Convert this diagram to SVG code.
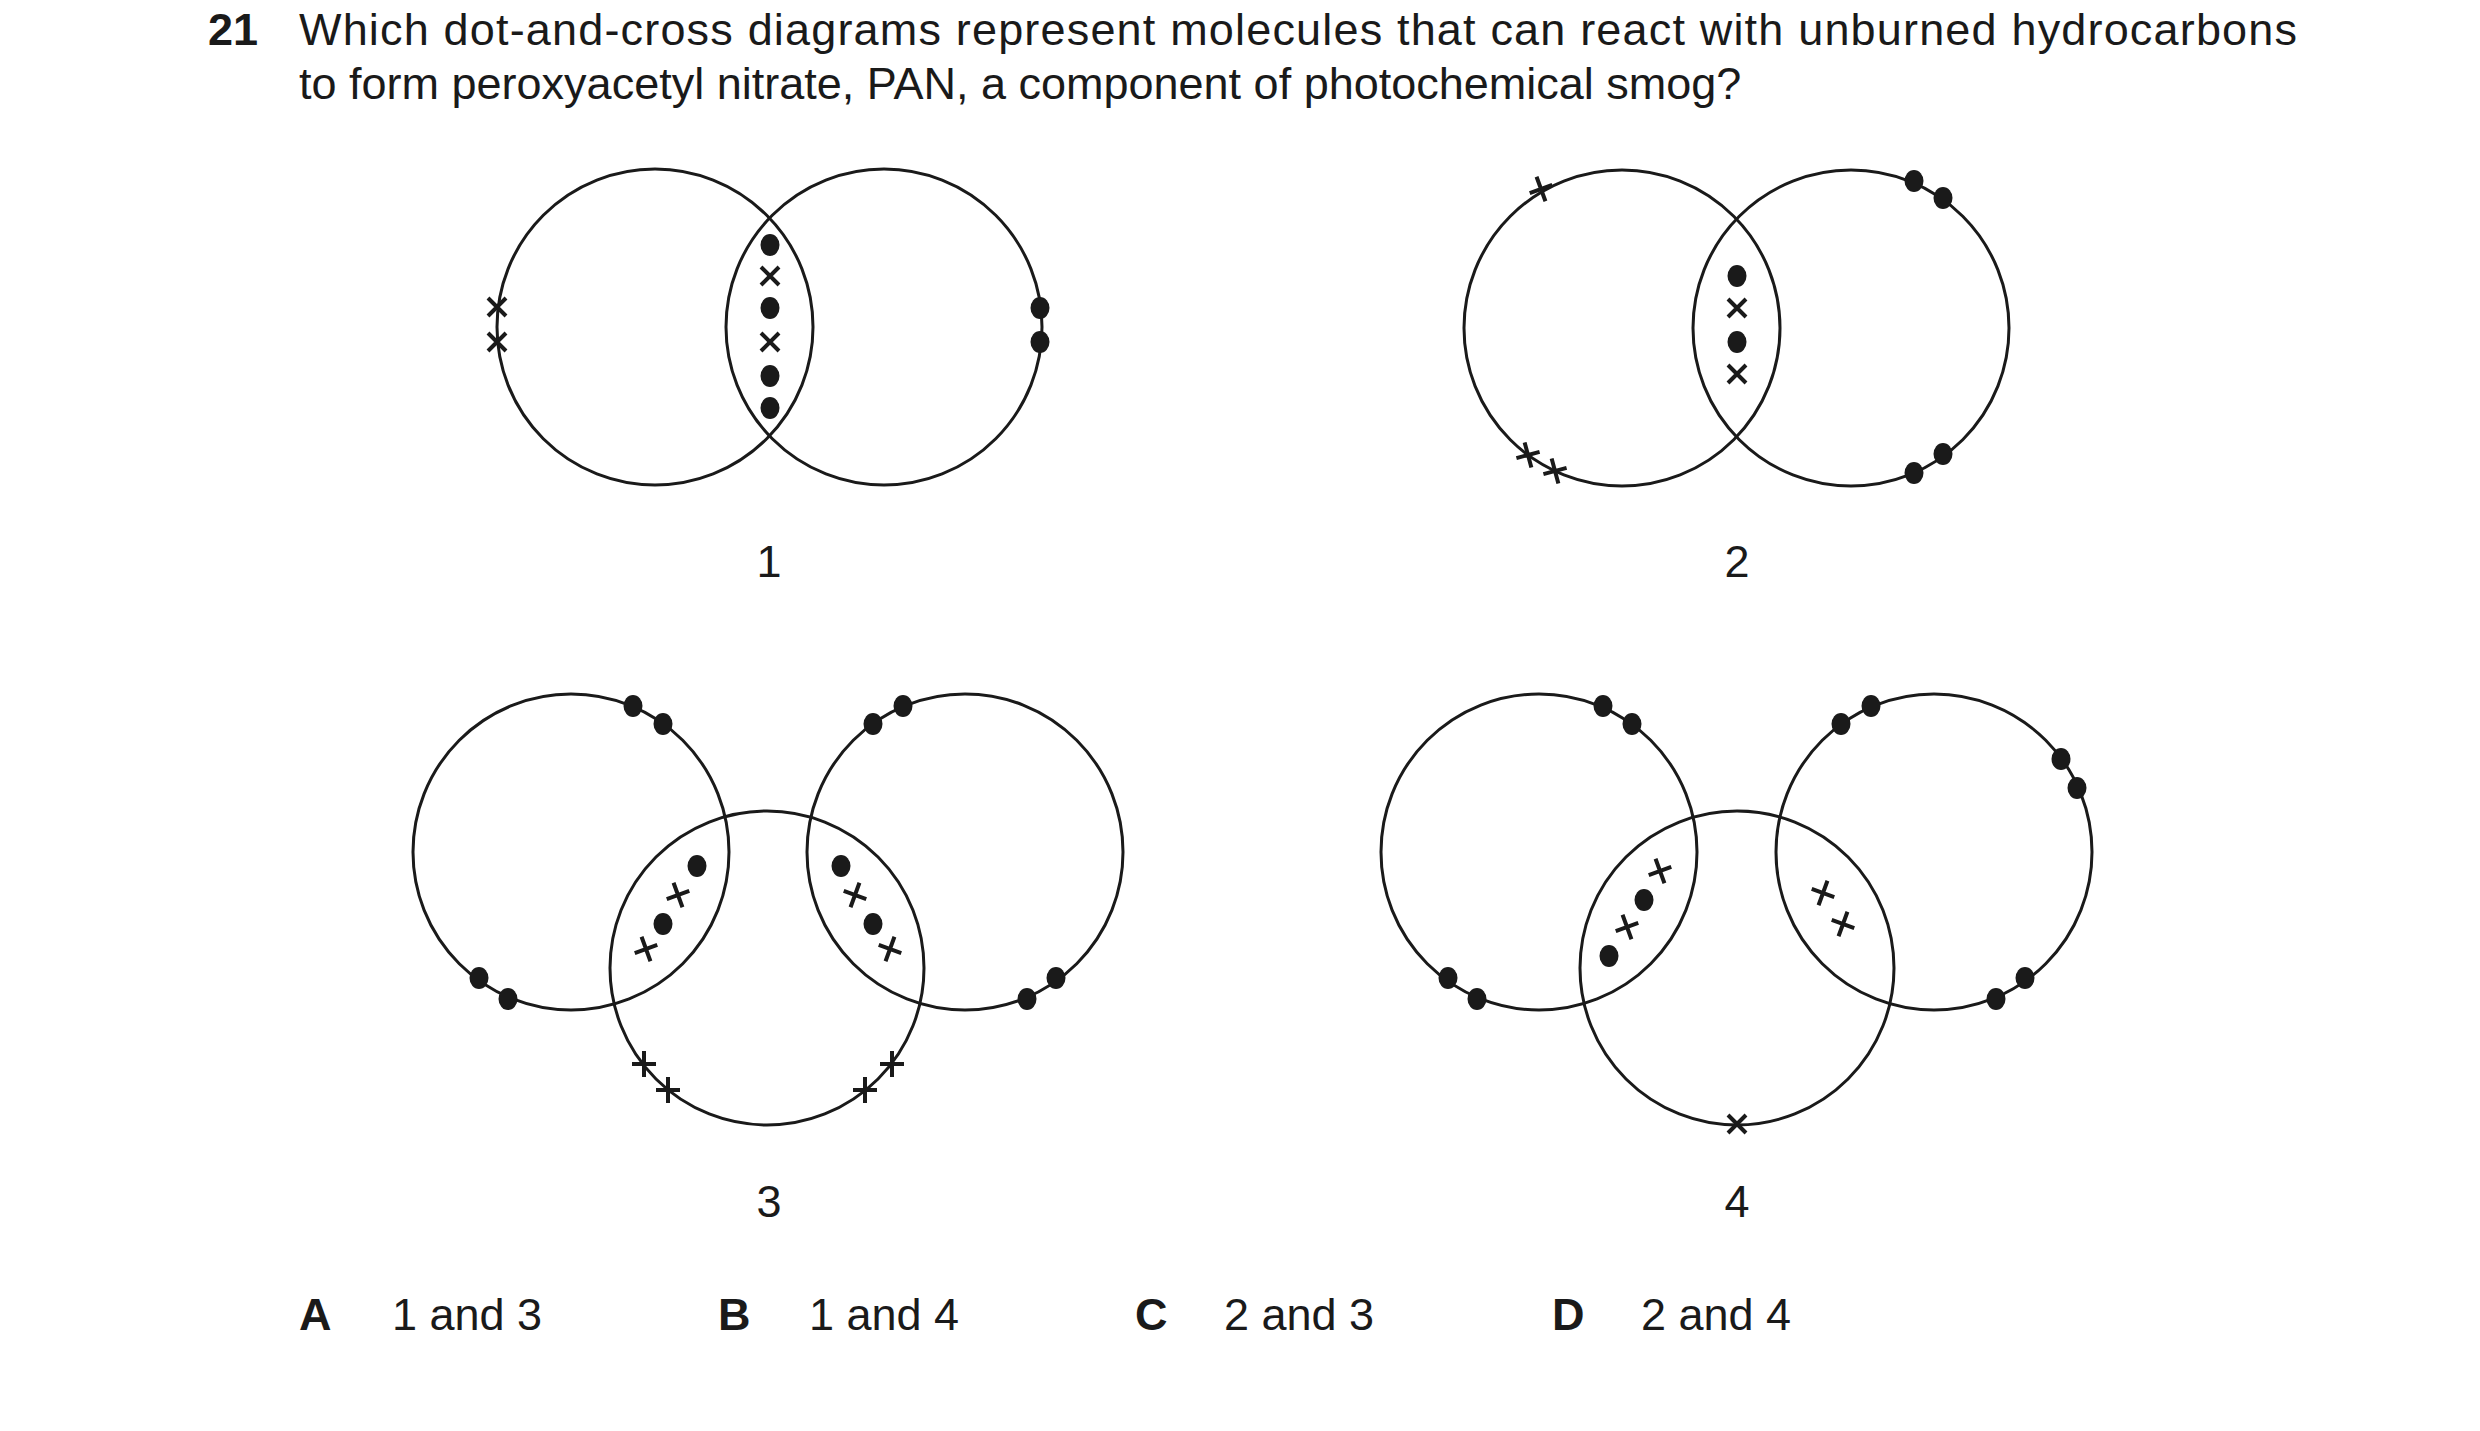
<svg xmlns="http://www.w3.org/2000/svg" width="2480" height="1431" viewBox="0 0 2480 1431">
<style>
.c{fill:none;stroke:#1a1a1a;stroke-width:3}
.d{fill:#1a1a1a}
.x{stroke:#1a1a1a;stroke-width:4;fill:none}
text{font-family:"Liberation Sans",Arial,sans-serif;font-size:45px;fill:#1a1a1a}
.b{font-weight:bold}
</style>
<defs>
<ellipse id="dot" class="d" rx="9.5" ry="11"/>
<path id="xx" class="x" d="M-9,-9L9,9M9,-9L-9,9"/>
<path id="pl" class="x" d="M-12,0L12,0M0,-13L0,13"/>
</defs>
<text class="b" x="208" y="45">21</text>
<text x="299" y="45" textLength="1998" lengthAdjust="spacing">Which dot-and-cross diagrams represent molecules that can react with unburned hydrocarbons</text>
<text x="299" y="99">to form peroxyacetyl nitrate, PAN, a component of photochemical smog?</text>
<g id="d1">
<circle class="c" cx="655" cy="327" r="158"/><circle class="c" cx="884" cy="327" r="158"/>
<use href="#dot" x="770" y="245"/><use href="#xx" x="770" y="276"/><use href="#dot" x="770" y="308"/><use href="#xx" x="770" y="342"/><use href="#dot" x="770" y="376"/><use href="#dot" x="770" y="408"/>
<use href="#xx" x="497" y="307"/><use href="#xx" x="497" y="342"/>
<use href="#dot" x="1040" y="308"/><use href="#dot" x="1040" y="342"/>
<text x="769" y="577" text-anchor="middle">1</text>
</g>
<g id="d2">
<circle class="c" cx="1622" cy="328" r="158"/><circle class="c" cx="1851" cy="328" r="158"/>
<use href="#dot" x="1737" y="276"/><use href="#xx" x="1737" y="308"/><use href="#dot" x="1737" y="342"/><use href="#xx" x="1737" y="374"/>
<use href="#pl" transform="translate(1541,189) rotate(-20)"/>
<use href="#pl" transform="translate(1528,455) rotate(-15)"/><use href="#pl" transform="translate(1555,471) rotate(-15)"/>
<use href="#dot" x="1914" y="181"/><use href="#dot" x="1943" y="198"/>
<use href="#dot" x="1914" y="473"/><use href="#dot" x="1943" y="454"/>
<text x="1737" y="577" text-anchor="middle">2</text>
</g>
<g id="d3">
<circle class="c" cx="571" cy="852" r="158"/><circle class="c" cx="965" cy="852" r="158"/><circle class="c" cx="767" cy="968" r="157"/>
<use href="#dot" x="697" y="866"/><use href="#pl" transform="translate(678,895) rotate(-20)"/><use href="#dot" x="663" y="924"/><use href="#pl" transform="translate(646,949) rotate(-20)"/>
<use href="#dot" x="841" y="866"/><use href="#pl" transform="translate(855,895) rotate(20)"/><use href="#dot" x="873" y="924"/><use href="#pl" transform="translate(890,949) rotate(20)"/>
<use href="#dot" x="633" y="706"/><use href="#dot" x="663" y="724"/><use href="#dot" x="479" y="978"/><use href="#dot" x="508" y="999"/>
<use href="#dot" x="873" y="724"/><use href="#dot" x="903" y="706"/><use href="#dot" x="1027" y="999"/><use href="#dot" x="1056" y="978"/>
<use href="#pl" x="644" y="1064"/><use href="#pl" x="668" y="1090"/><use href="#pl" x="865" y="1090"/><use href="#pl" x="892" y="1064"/>
<text x="769" y="1217" text-anchor="middle">3</text>
</g>
<g id="d4">
<circle class="c" cx="1539" cy="852" r="158"/><circle class="c" cx="1934" cy="852" r="158"/><circle class="c" cx="1737" cy="968" r="157"/>
<use href="#dot" x="1603" y="706"/><use href="#dot" x="1632" y="724"/><use href="#dot" x="1448" y="978"/><use href="#dot" x="1477" y="999"/>
<use href="#dot" x="1841" y="724"/><use href="#dot" x="1871" y="706"/><use href="#dot" x="2061" y="759"/><use href="#dot" x="2077" y="788"/>
<use href="#dot" x="1996" y="999"/><use href="#dot" x="2025" y="978"/>
<use href="#pl" transform="translate(1660,871) rotate(-20)"/><use href="#dot" x="1644" y="900"/><use href="#pl" transform="translate(1627,927) rotate(-20)"/><use href="#dot" x="1609" y="956"/>
<use href="#pl" transform="translate(1823,893) rotate(20)"/><use href="#pl" transform="translate(1843,924) rotate(20)"/>
<use href="#xx" x="1737" y="1124"/>
<text x="1737" y="1217" text-anchor="middle">4</text>
</g>
<g id="options">
<text class="b" x="299" y="1330">A</text><text x="392" y="1330">1 and 3</text>
<text class="b" x="718" y="1330">B</text><text x="809" y="1330">1 and 4</text>
<text class="b" x="1135" y="1330">C</text><text x="1224" y="1330">2 and 3</text>
<text class="b" x="1552" y="1330">D</text><text x="1641" y="1330">2 and 4</text>
</g>
</svg>
